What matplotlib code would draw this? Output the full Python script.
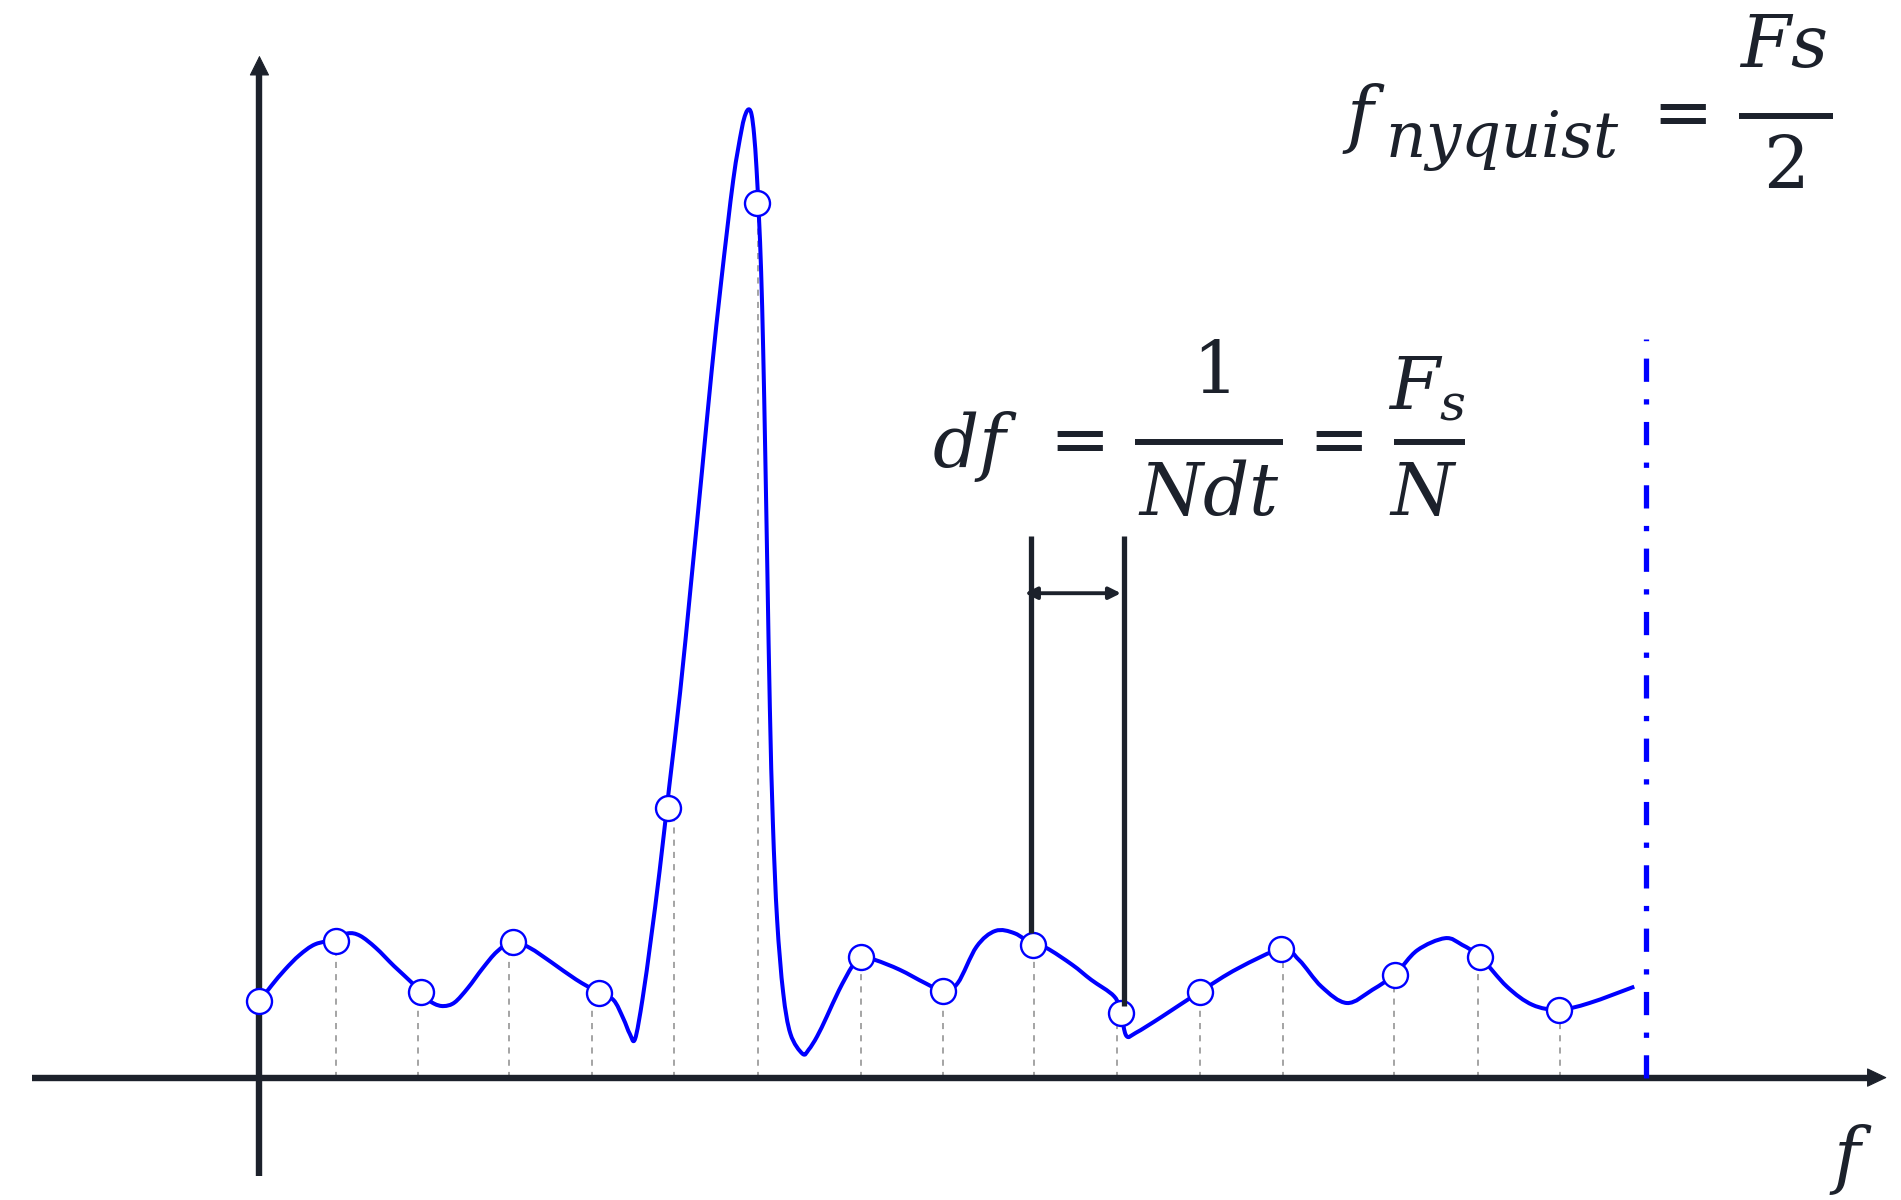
import numpy as np
import matplotlib
matplotlib.use('Agg')
import matplotlib.pyplot as plt
from matplotlib.path import Path
from matplotlib.patches import PathPatch

plt.rcParams['mathtext.fontset'] = 'dejavuserif'

# continuous spectrum (frequency, amplitude)
curve_f = [0.0, 1.0, 2.1, 3.3, 4.6, 6.3, 7.3, 8.3, 9.6, 11.1, 12.6, 13.6, 14.4, 15.2,
           16.1, 17.2, 18.4, 19.6, 20.9, 22.3, 24.1, 26.1, 28.0, 29.2, 30.0, 30.55,
           30.98, 31.6, 32.3, 33.0, 33.8, 34.7, 35.6, 36.5, 37.3, 38.1, 39.08, 39.77,
           40.1, 40.38, 40.6, 40.8, 41.0, 41.2, 41.38, 41.55, 41.72, 41.9, 42.1,
           42.35, 42.7, 43.2, 43.8, 44.8, 45.3, 46.0, 46.8, 47.8, 48.9, 49.6, 50.8,
           52.8, 54.9, 56.4, 57.6, 59.15, 60.7, 62.3, 63.8, 64.9, 67.05, 68.6, 70.5,
           71.06, 71.5, 72.3, 74.4, 77.6, 80.7, 84.3, 85.75, 87.6, 89.7, 91.8, 93.7,
           95.5, 97.8, 99.2, 100.7, 102.9, 105.0, 107.2, 109.7, 113.4]
curve_a = [6.3, 7.6, 8.9, 10.1, 11.0, 11.4, 11.9, 11.7, 10.7, 9.2, 7.8, 6.7, 6.1, 5.9,
           6.2, 7.4, 9.0, 10.4, 11.2, 10.7, 9.5, 8.1, 7.0, 6.4, 4.9, 3.6,
           3.18, 6.5, 11.5, 17.0, 24.0, 31.8, 40.8, 50.0, 58.3, 65.8, 74.05, 78.2,
           79.5, 79.88, 79.4, 77.8, 75.0, 71.0, 66.5, 60.0, 51.5, 41.5, 30.5,
           21.0, 13.0, 7.0, 3.6, 1.96, 2.3, 3.4, 5.04, 7.2, 9.2, 9.95, 9.7,
           8.9, 7.8, 7.15, 7.8, 10.8, 12.1, 11.9, 10.95, 10.7, 9.3, 8.07, 6.7,
           5.32, 3.45, 3.7, 5.0, 7.1, 9.0, 10.6, 9.7, 7.5, 6.15, 7.24, 8.56,
           10.5, 11.5, 10.95, 9.94, 7.5, 6.0, 5.6, 6.15, 7.5]

# DFT bins (circles)
bin_f = [0.0, 6.3, 13.3, 20.9, 28.0, 33.7, 41.04, 49.6, 56.4, 63.8, 71.06, 77.6,
         84.3, 93.7, 100.7, 107.2]
bin_a = [6.3, 11.3, 7.1, 11.2, 7.0, 22.2, 72.15, 9.95, 7.15, 10.95, 5.32, 7.1,
         10.6, 8.5, 9.94, 5.6]

# grey dashed drop lines under the bins (no line for the bin on the axis)
stem_f = [6.3, 13.1, 20.6, 27.4, 34.2, 41.1, 49.6, 56.4, 63.9, 70.7, 77.6, 84.4,
          93.6, 100.5, 107.3]

f_nyq = 114.4
df_left, df_right = 63.66, 71.27

ink = '#1c212b'
blue = '#0000ff'
fs = 52


def smooth_path(xs, ys):
    # Catmull-Rom knots -> cubic Bezier segments, drawn by matplotlib's Path
    p = np.column_stack([xs, ys])
    ext = np.vstack([p[0], p, p[-1]])
    verts = [p[0]]
    codes = [Path.MOVETO]
    for i in range(len(p) - 1):
        p0, p1, p2, p3 = ext[i], ext[i + 1], ext[i + 2], ext[i + 3]
        verts += [p1 + (p2 - p0) / 6, p2 - (p3 - p1) / 6, p2]
        codes += [Path.CURVE4] * 3
    return Path(verts, codes)


def put(x, y, s, size=fs, ha='center', va='center'):
    ax.text(x, y, s, fontsize=size, color=ink, ha=ha, va=va)


def bar(x0, x1, y):
    ax.plot([x0, x1], [y, y], color=ink, lw=4.3, solid_capstyle='butt')


fig = plt.figure(figsize=(19.01, 12), dpi=100)
ax = fig.add_axes([0, 0, 1, 1])
ax.set_xlim(-21.4, 135.4)
ax.set_ylim(-10.1, 88.9)
ax.axis('off')

# drop lines
for f, a in zip(stem_f, bin_a[1:]):
    ax.plot([f, f], [0, a], color='#8c8c8c', lw=1.1, dashes=(4, 4), zorder=1)

# spectrum
ax.add_patch(PathPatch(smooth_path(curve_f, curve_a), fc='none', ec=blue,
                       lw=2.9, joinstyle='round', zorder=2))

# axes with arrow heads
ax.plot([-18.76, 133.0], [0, 0], color=ink, lw=4.6, solid_capstyle='butt', zorder=3)
ax.plot([0, 0], [-8.1, 83.0], color=ink, lw=4.6, solid_capstyle='butt', zorder=3)
ax.annotate('', xy=(134.24, 0), xytext=(130, 0),
            arrowprops=dict(arrowstyle='-|>,head_length=1.3,head_width=0.62',
                            mutation_scale=10, lw=0.8, color=ink,
                            shrinkA=0, shrinkB=0), zorder=3)
ax.annotate('', xy=(0, 84.31), xytext=(0, 78),
            arrowprops=dict(arrowstyle='-|>,head_length=1.3,head_width=0.65',
                            mutation_scale=10, lw=0.8, color=ink,
                            shrinkA=0, shrinkB=0), zorder=3)

# Nyquist limit
ax.plot([f_nyq, f_nyq], [0, 60.94], color=blue, lw=3.8,
        dashes=(4.4, 3.3, 1.0, 3.3), zorder=3)

# sampled bins
ax.plot(bin_f, bin_a, ls='none', marker='o', ms=18, mfc='white', mec=blue,
        mew=1.7, zorder=4)

# df bracket
ax.plot([df_left, df_left], [44.7, 11.94], color=ink, lw=3.8,
        solid_capstyle='butt', zorder=5)
ax.plot([df_right, df_right], [44.7, 5.9], color=ink, lw=3.8,
        solid_capstyle='butt', zorder=5)
ax.annotate('', xy=(71.06, 39.96), xytext=(63.14, 39.96),
            arrowprops=dict(arrowstyle='<|-|>,head_length=0.7,head_width=0.35',
                            mutation_scale=10, lw=2.8, color=ink,
                            shrinkA=0, shrinkB=0), zorder=5)

# f_nyquist = Fs / 2
put(91.1, 79.14, r'$f$')
put(92.85, 75.95, r'$nyquist$', size=45, ha='left', va='baseline')
put(116.6, 79.4, r'$=$')
bar(122.0, 129.75, 79.34)
put(125.64, 84.98, r'$Fs$')
put(125.72, 75.01, r'$2$')

# df = 1 / (N dt) = Fs / N
put(59.0, 52.1, r'$df$')
put(66.9, 52.4, r'$=$')
bar(72.25, 84.4, 52.4)
put(78.47, 58.1, r'$1$')
put(78.36, 48.05, r'$Ndt$')
put(88.25, 52.4, r'$=$')
bar(93.55, 99.4, 52.4)
put(96.24, 56.74, r'$F_s$')
put(96.03, 48.04, r'$N$')

# axis label
put(131.27, -6.78, r'$f$')

fig.savefig('out.png', dpi=100)
